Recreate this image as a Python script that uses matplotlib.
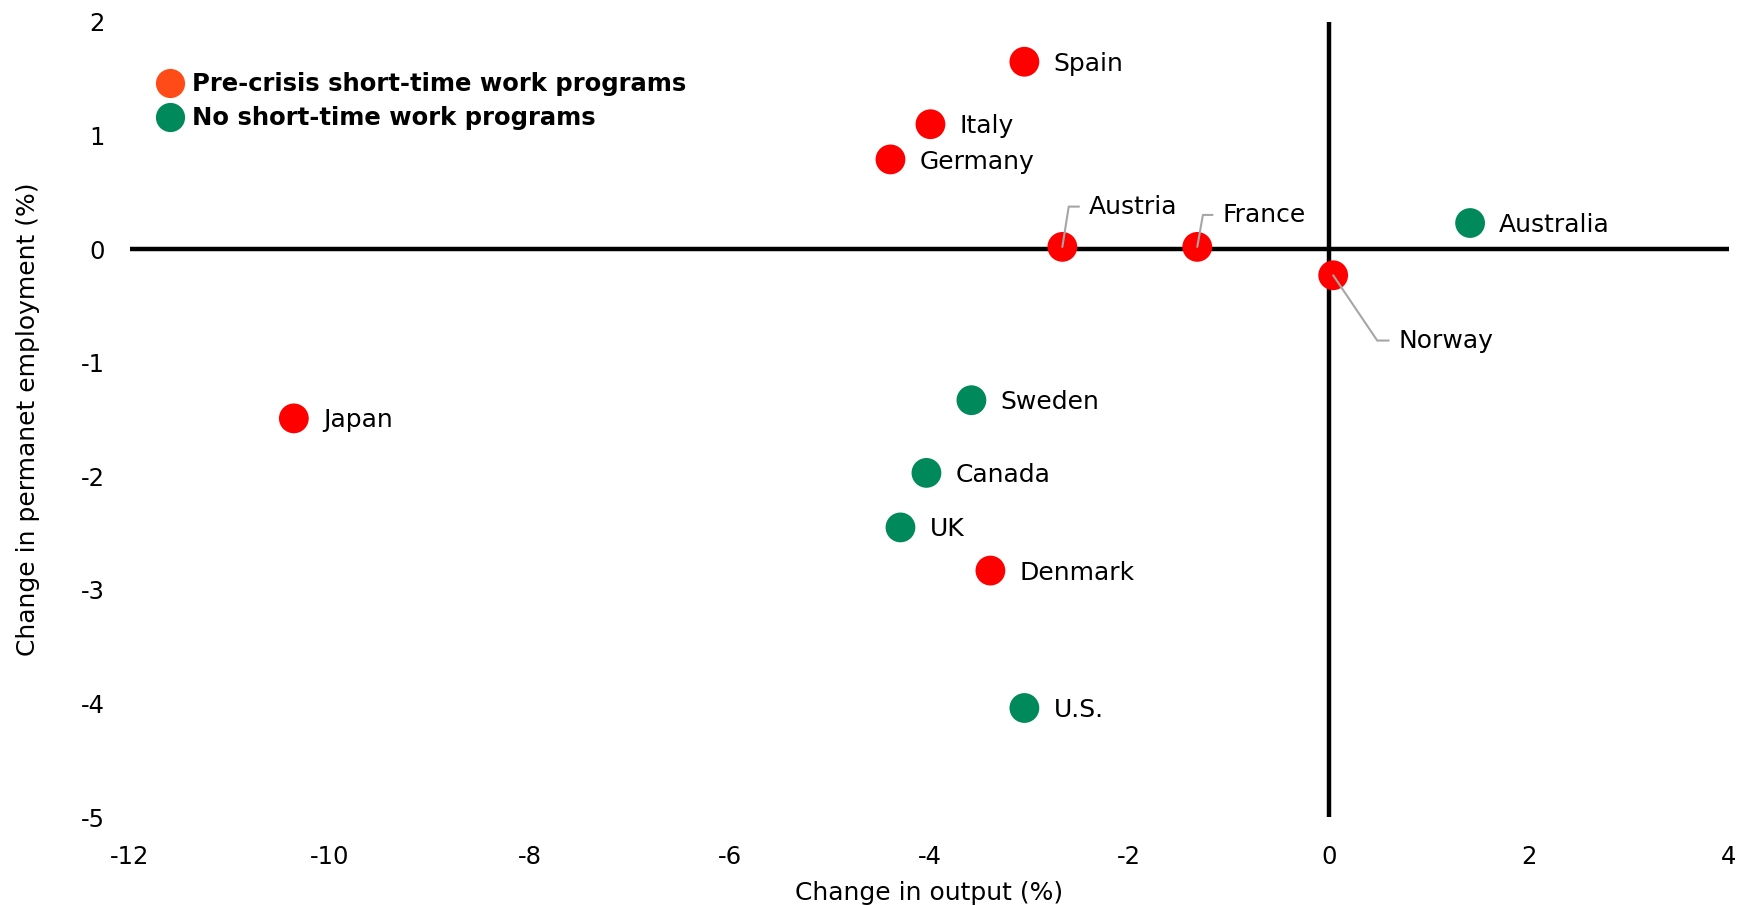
import matplotlib.pyplot as plt
from matplotlib.lines import Line2D

# Datos
countries = ['Spain', 'Italy', 'Germany', 'Austria', 'France', 'Norway', 'Japan', 'Denmark',
             'Australia', 'Sweden', 'Canada', 'UK', 'U.S.']
output_change = [-3.05, -3.99, -4.39, -2.67, -1.32, 0.04, -10.36, -3.39,
                 1.41, -3.58, -4.03, -4.29, -3.05]
employment_change = [1.65, 1.10, 0.79, 0.02, 0.02, -0.23, -1.49, -2.83,
                     0.23, -1.33, -1.97, -2.45, -4.04]
has_program = [True, True, True, True, True, True, True, True,
               False, False, False, False, False]

# Desplazamiento de las etiquetas (puntos) y líneas guía
label_offsets = {
    'Austria': (19, 29),
    'France': (18, 23),
    'Norway': (47, -47),
}
leader_angles = {'Austria': 81, 'France': 80, 'Norway': -56}

x_ticks = [-12, -10, -8, -6, -4, -2, 0, 2, 4]
y_ticks = [2, 1, 0, -1, -2, -3, -4, -5]

RED = '#FF0000'
ORANGE = '#FF4B17'
GREEN = '#00895A'

plt.rcParams['font.family'] = ['DejaVu Sans']
plt.rcParams['axes.unicode_minus'] = False

fig = plt.figure(figsize=(17.42, 9.05), dpi=100)
ax = fig.add_axes([0.0746, 0.0972, 0.9179, 0.8785])

ax.set_xlim(-12, 4)
ax.set_ylim(-5, 2)

# Ejes en cero
ax.axhline(0, color='black', lw=3.2, zorder=1)
ax.axvline(0, color='black', lw=3.2, zorder=1)

colors = [RED if p else GREEN for p in has_program]
ax.scatter(output_change, employment_change, s=460, c=colors, edgecolors='none', zorder=3)

for name, x, y in zip(countries, output_change, employment_change):
    if name in label_offsets:
        dx, dy = label_offsets[name]
        ax.annotate(name, xy=(x, y), xytext=(dx, dy), textcoords='offset points',
                    ha='left', va='center', fontsize=18, zorder=4,
                    arrowprops=dict(arrowstyle='-', color='#A6A6A6', lw=1.5,
                                    relpos=(0, 0.5), patchA=None, shrinkA=7, shrinkB=0,
                                    connectionstyle=f'angle,angleA=0,angleB={leader_angles[name]},rad=0'))
    else:
        ax.annotate(name, xy=(x, y), xytext=(21, -1.5), textcoords='offset points',
                    ha='left', va='center', fontsize=18, zorder=4)

for s in ax.spines.values():
    s.set_visible(False)

ax.set_xticks(x_ticks)
ax.set_yticks(y_ticks)
ax.tick_params(axis='both', length=0, labelsize=17.5)
ax.tick_params(axis='x', pad=20)
ax.tick_params(axis='y', pad=18)

ax.set_xlabel('Change in output (%)', fontsize=18)
ax.set_ylabel('Change in permanet employment (%)', fontsize=18)
ax.xaxis.set_label_coords(0.5, -0.096)
ax.xaxis.label.set_va('center')
ax.yaxis.set_label_coords(-0.064, 0.5)
ax.yaxis.label.set_va('center')

handles = [
    Line2D([], [], marker='o', linestyle='none', markersize=21, color=ORANGE, markeredgewidth=0),
    Line2D([], [], marker='o', linestyle='none', markersize=21, color=GREEN, markeredgewidth=0),
]
ax.legend(handles, ['Pre-crisis short-time work programs', 'No short-time work programs'],
          loc='upper left', bbox_to_anchor=(0.016, 0.937), frameon=False,
          prop={'weight': 'bold', 'size': 17.5}, handlelength=1.2, handletextpad=0.3,
          labelspacing=0.42, borderpad=0, borderaxespad=0)

plt.savefig('out.png', dpi=100)
